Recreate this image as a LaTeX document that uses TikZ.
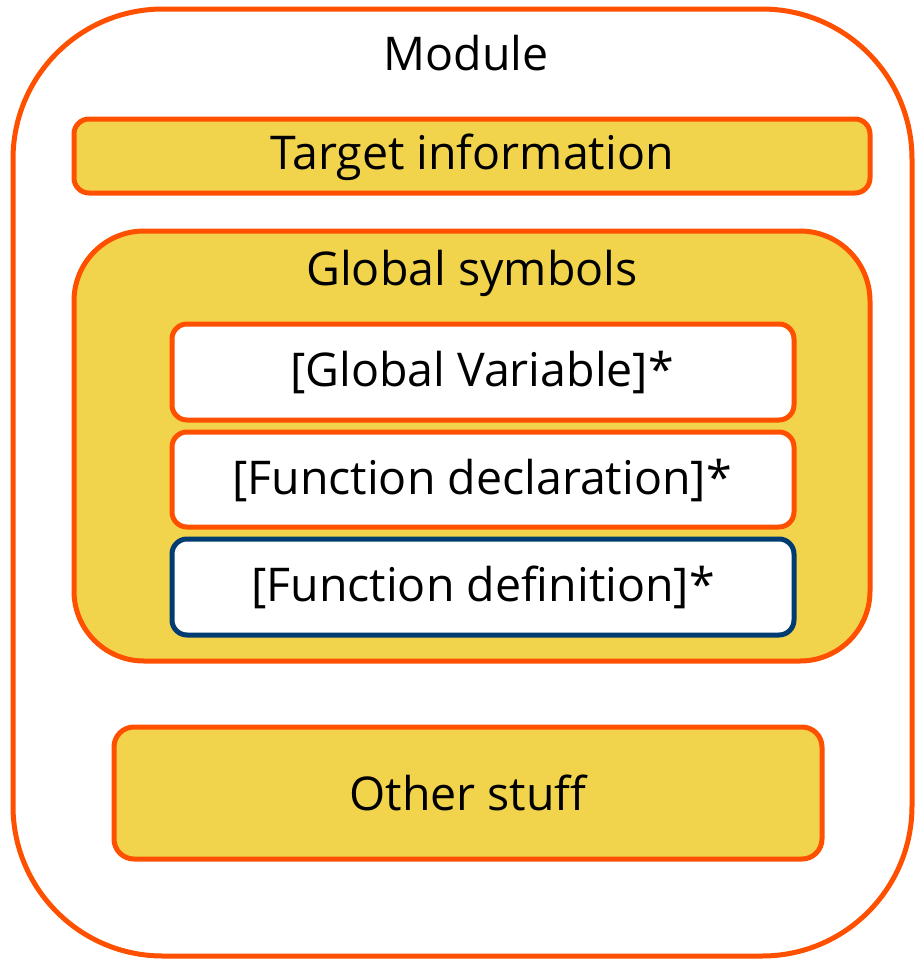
\documentclass[tikz,border=0pt]{standalone}
\usepackage{fontspec}
\setmainfont{Open Sans}[Ligatures=NoCommon]
\definecolor{borange}{HTML}{FF5000}
\definecolor{byellow}{HTML}{F2D44C}
\definecolor{bblue}{HTML}{003C71}
\begin{document}
\begin{tikzpicture}[x=1pt,y=-1pt,
  box/.style={draw=borange,line width=5pt,rounded corners=#1},
  box/.default=15pt,
  txt/.style={font=\fontsize{46.5}{52}\selectfont},
  lbl/.style={inner sep=0pt,anchor=center}]
\useasboundingbox (0,0) rectangle (917,962);
% module
\draw[box=150pt,fill=white] (13,9) rectangle (912,956);
\node[lbl,txt] (module) at (466,53) {Module};
% target
\draw[box,fill=byellow] (74,119) rectangle (870,193);
\node[lbl,txt] (target) at (472,157) {Target information};
% global symbols
\draw[box=70pt,fill=byellow] (74,231) rectangle (870,661);
\node[lbl,txt] (glob) at (472,273) {Global symbols};
\draw[box,fill=white] (172,324) rectangle (794,420);
\node[lbl,txt] (gv) at (482,373) {[Global Variable]*};
\draw[box,fill=white] (172,432) rectangle (794,527);
\node[lbl,txt] (fdecl) at (482,481) {[Function declaration]*};
\draw[box,draw=bblue,fill=white] (172,539) rectangle (794,635);
\node[lbl,txt] (fdef) at (483,587) {[Function definition]*};
% other
\draw[box=20pt,fill=byellow] (114,727) rectangle (822,859);
\node[lbl,txt] (other) at (468,793) {Other stuff};
\end{tikzpicture}
\end{document}
